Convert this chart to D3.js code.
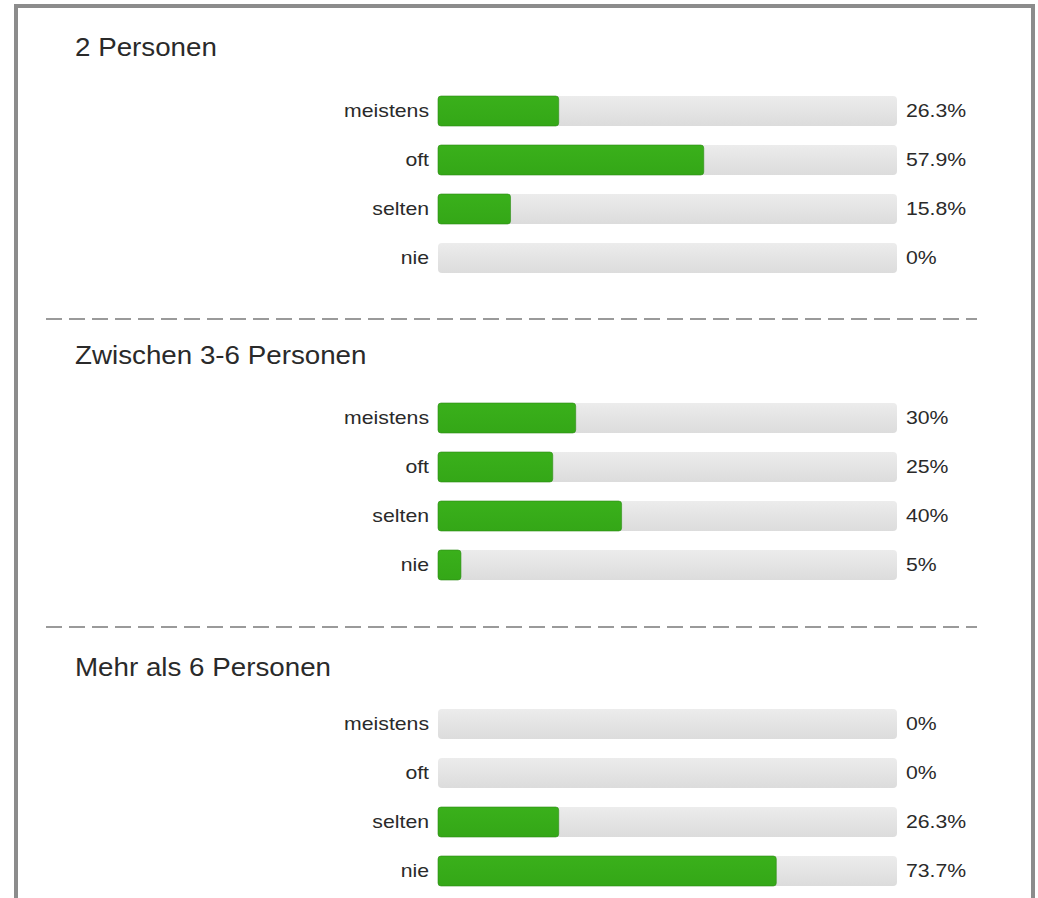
<!DOCTYPE html>
<html><head><meta charset="utf-8">
<script src="https://cdn.jsdelivr.net/npm/d3@7"></script>
<style>html,body{margin:0;padding:0;background:#fff;}</style>
</head><body>
<script>
const groups = ["2 Personen", "Zwischen 3-6 Personen", "Mehr als 6 Personen"];
const categories = ["meistens", "oft", "selten", "nie"];
const values2 = [26.3, 57.9, 15.8, 0];
const values36 = [30, 25, 40, 5];
const values6plus = [0, 0, 26.3, 73.7];
const valueLabels2 = ["26.3%", "57.9%", "15.8%", "0%"];
const valueLabels36 = ["30%", "25%", "40%", "5%"];
const valueLabels6plus = ["0%", "0%", "26.3%", "73.7%"];

const seriesValues = [values2, values36, values6plus];
const seriesLabels = [valueLabels2, valueLabels36, valueLabels6plus];

const W = 1038, H = 898;
const svg = d3.select("body").append("svg").attr("width", W).attr("height", H)
  .style("display","block");

const defs = svg.append("defs");
const tg = defs.append("linearGradient").attr("id","track").attr("x1",0).attr("y1",0).attr("x2",0).attr("y2",1);
tg.append("stop").attr("offset","0%").attr("stop-color","#ececec");
tg.append("stop").attr("offset","100%").attr("stop-color","#dcdcdc");
const gg = defs.append("linearGradient").attr("id","green").attr("x1",0).attr("y1",0).attr("x2",0).attr("y2",1);
gg.append("stop").attr("offset","0%").attr("stop-color","#3ab01b");
gg.append("stop").attr("offset","100%").attr("stop-color","#34a717");

// frame
svg.append("rect").attr("x",16).attr("y",6).attr("width",1017).attr("height",H)
  .attr("fill","none").attr("stroke","#8c8c8c").attr("stroke-width",4);
svg.append("line").attr("x1",1034).attr("x2",1034).attr("y1",6).attr("y2",H)
  .attr("stroke","#8c8c8c").attr("stroke-width",2);

const x = d3.scaleLinear().domain([0, 100]).range([438, 897]);
const titleY = [47, 355, 667];
const firstRowY = [111, 418, 724];
const rowStep = 49;
const dividerY = [319, 627];

const font = "'Liberation Sans', Arial, sans-serif";
const textCol = "#2a2a2a";

groups.forEach((g, gi) => {
  const sec = svg.append("g");
  sec.append("text")
    .attr("transform", `translate(75,${titleY[gi]}) scale(1.11,1)`)
    .attr("dy","0.35em")
    .attr("font-family", font).attr("font-size", 25).attr("fill", textCol).text(g);
  const bh = 30;
  categories.forEach((c, ci) => {
    const cy = firstRowY[gi] + ci * rowStep;
    const v = seriesValues[gi][ci];
    sec.append("rect").attr("x", x(0)).attr("y", cy - bh/2).attr("width", x(100) - x(0)).attr("height", bh)
      .attr("rx", 4).attr("fill", "url(#track)");
    if (v > 0) {
      sec.append("rect").attr("x", x(0)).attr("y", cy - bh/2).attr("width", x(v) - x(0)).attr("height", bh)
        .attr("rx", 3).attr("fill", "url(#green)").attr("stroke","#2e8c15").attr("stroke-width",0.6);
    }
    sec.append("text")
      .attr("transform", `translate(429,${cy}) scale(1.18,1)`)
      .attr("dy","0.35em").attr("text-anchor","end")
      .attr("font-family", font).attr("font-size", 18).attr("fill", textCol).text(c);
    sec.append("text")
      .attr("transform", `translate(906,${cy}) scale(1.18,1)`)
      .attr("dy","0.35em")
      .attr("font-family", font).attr("font-size", 18).attr("fill", textCol).text(seriesLabels[gi][ci]);
  });
});

svg.selectAll("line.divider").data(dividerY).enter().append("line")
  .attr("class","divider")
  .attr("x1", 46).attr("x2", 977)
  .attr("y1", d => d).attr("y2", d => d)
  .attr("stroke","#9a9a9a").attr("stroke-width",2).attr("stroke-dasharray","16,7");
</script>
</body></html>
